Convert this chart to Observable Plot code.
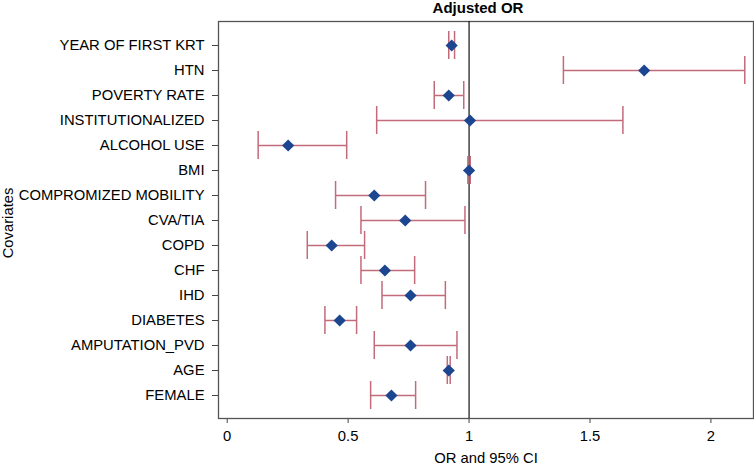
<!DOCTYPE html>
<html><head><meta charset="utf-8">
<script src="https://cdn.jsdelivr.net/npm/d3@7"></script>
<script src="https://cdn.jsdelivr.net/npm/@observablehq/plot@0.6"></script>
<style>body{margin:0;background:#fff} svg{font-family:"Liberation Sans",Arial,sans-serif}</style>
</head><body><div id="chart"></div>
<script>
const covariates = ["YEAR OF FIRST KRT","HTN","POVERTY RATE","INSTITUTIONALIZED","ALCOHOL USE","BMI","COMPROMIZED MOBILITY","CVA/TIA","COPD","CHF","IHD","DIABETES","AMPUTATION_PVD","AGE","FEMALE"];
const orValues = [0.928,1.724,0.916,1.004,0.252,1.000,0.608,0.736,0.432,0.652,0.758,0.465,0.758,0.916,0.679];
const ciLow    = [0.916,1.390,0.856,0.618,0.128,0.995,0.448,0.553,0.331,0.553,0.640,0.404,0.608,0.910,0.593];
const ciHigh   = [0.940,2.140,0.978,1.636,0.494,1.005,0.820,0.983,0.568,0.775,0.902,0.535,0.950,0.922,0.779];
const xTicks = [0, 0.5, 1, 1.5, 2];
const data = covariates.map((c, i) => ({covariate: c, or: orValues[i], lo: ciLow[i], hi: ciHigh[i]}));
const font = '"Liberation Sans",Arial,sans-serif';
const chart = Plot.plot({
  width: 754, height: 466,
  marginLeft: 218, marginRight: 1, marginTop: 21, marginBottom: 48,
  style: {fontFamily: font, fontSize: "14.8px", color: "#000", background: "#fff"},
  x: {domain: [-0.036, 2.176]},
  y: {domain: covariates, padding: 0.38},
  marks: [
    Plot.axisX({ticks: xTicks, tickFormat: d => String(d), tickSize: 5, tickPadding: 7, fontSize: 14.8, label: null, stroke: "#444"}),
    Plot.axisY({tickSize: 6, tickPadding: 8, fontSize: 14.8, label: null, stroke: "#444"}),
    Plot.frame({stroke: "#555", strokeWidth: 1.3}),
    Plot.ruleX([1], {stroke: "#111", strokeWidth: 1.2}),
    Plot.link(data, {x1: "lo", x2: "hi", y1: "covariate", y2: "covariate", stroke: "#c26b7a", strokeWidth: 1.5}),
    Plot.tickX(data, {x: "lo", y: "covariate", stroke: "#c26b7a", strokeWidth: 1.5, insetTop: -6, insetBottom: -6}),
    Plot.tickX(data, {x: "hi", y: "covariate", stroke: "#c26b7a", strokeWidth: 1.5, insetTop: -6, insetBottom: -6}),
    Plot.dot(data, {x: "or", y: "covariate", symbol: "diamond2", r: 5.5, fill: "#1d4690", stroke: "none"}),
    Plot.text(["Adjusted OR"], {frameAnchor: "top", dx: -8, dy: -13, fontWeight: "bold", fontSize: 15, lineAnchor: "middle"}),
    Plot.text(["OR and 95% CI"], {frameAnchor: "bottom", dy: 40, fontSize: 14.8, lineAnchor: "middle"}),
    Plot.text(["Covariates"], {frameAnchor: "left", dx: -210, dy: 3, rotate: -90, fontSize: 14.8, lineAnchor: "middle", textAnchor: "middle"})
  ]
});
document.getElementById("chart").appendChild(chart);
</script></body></html>
